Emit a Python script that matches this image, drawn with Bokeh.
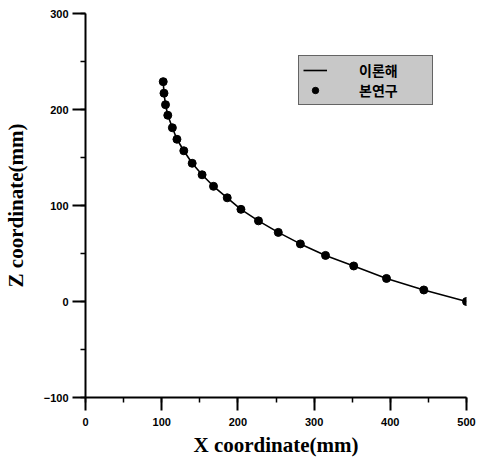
from bokeh.plotting import figure
from bokeh.models import Range1d, SingleIntervalTicker, Legend, LegendItem
from bokeh.embed import file_html
from bokeh.resources import INLINE

# Data
x_vals = [102, 103, 105, 108, 114, 120, 129, 140, 153, 168, 186, 204, 227, 253, 282, 315, 352, 395, 444, 500]
z_vals = [229, 217, 205, 194, 181, 169, 157, 144, 132, 120, 108, 96, 84, 72, 60, 48, 37, 24, 12, 0]
theory_x = x_vals
theory_z = z_vals
legend_labels = ["이론해", "본연구"]
x_label = "X coordinate(mm)"
y_label = "Z coordinate(mm)"

p = figure(width=483, height=463, output_backend="svg", toolbar_location=None,
           x_range=Range1d(0, 500), y_range=Range1d(-100, 300),
           min_border_left=82, min_border_right=17, min_border_top=13, min_border_bottom=66)
p.outline_line_color = None
p.xgrid.visible = False
p.ygrid.visible = False
p.background_fill_color = "white"
p.border_fill_color = "white"

line_r = p.line(theory_x, theory_z, line_color="black", line_width=1.6)
pts_r = p.scatter(x_vals, z_vals, size=8, fill_color="black", line_color="black")

for ax, tick in ((p.xaxis[0], 100), (p.yaxis[0], 100)):
    ax.ticker = SingleIntervalTicker(interval=tick, num_minor_ticks=2)
    ax.axis_line_width = 2
    ax.axis_line_color = "black"
    ax.major_tick_line_width = 2
    ax.minor_tick_line_width = 1.5
    ax.major_tick_out = 13
    ax.major_tick_in = 0
    ax.minor_tick_out = 5
    ax.minor_tick_in = 0
    ax.major_label_text_font = "Liberation Sans"
    ax.major_label_text_font_size = "11px"
    ax.major_label_text_font_style = "bold"
    ax.major_label_text_color = "black"
    ax.axis_label_text_font = "Liberation Serif"
    ax.axis_label_text_font_size = "21px"
    ax.axis_label_text_font_style = "bold"
    ax.axis_label_text_color = "black"

p.xaxis[0].axis_label = x_label
p.yaxis[0].axis_label = y_label
p.xaxis[0].major_label_standoff = 7
p.xaxis[0].axis_label_standoff = 4
p.yaxis[0].major_label_standoff = 4
p.yaxis[0].axis_label_standoff = 13

legend = Legend(items=[LegendItem(label=legend_labels[0], renderers=[line_r]),
                       LegendItem(label=legend_labels[1], renderers=[pts_r])],
                location=(213, 292), margin=0, padding=4, spacing=0,
                glyph_width=24, glyph_height=16, label_height=16,
                label_standoff=32, label_width=69,
                label_text_font="Noto Sans CJK KR", label_text_font_style="bold",
                label_text_font_size="14px", label_text_color="black",
                background_fill_color="#c8c8c8", background_fill_alpha=1.0,
                border_line_color="black", border_line_width=1.5)
p.add_layout(legend)

open("out.html", "w").write(file_html(p, INLINE))
